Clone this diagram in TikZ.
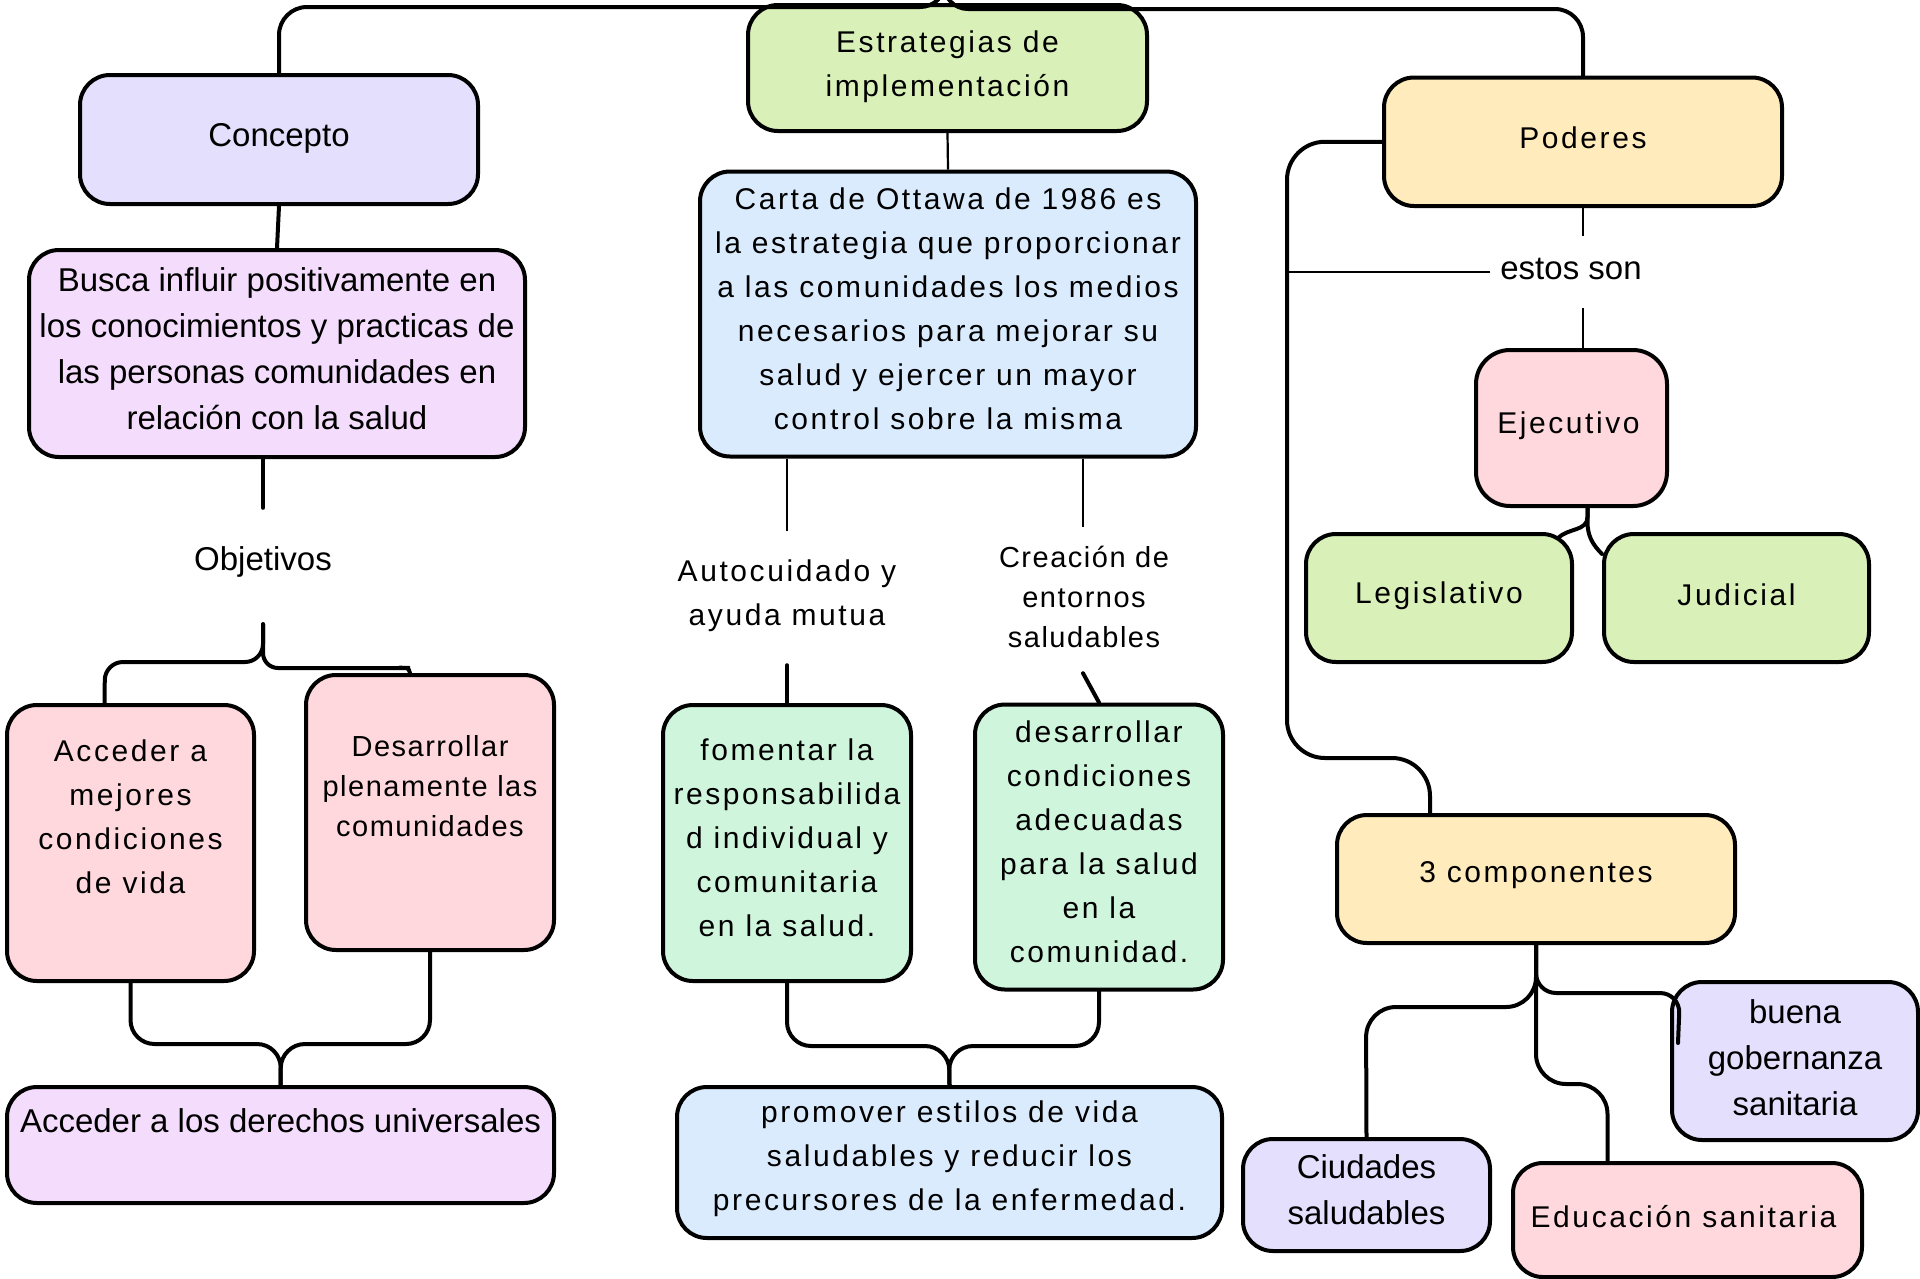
\documentclass[tikz,border=0pt]{standalone}
\usepackage{fontspec}
\setmainfont{Liberation Sans}
\newfontfamily\spacedfont[LetterSpace=8.6]{Liberation Sans}
\newfontfamily\smallspfont[LetterSpace=5.2]{Liberation Sans}
\definecolor{cLav}{HTML}{E4DFFC}
\definecolor{cGrn}{HTML}{D9F1B9}
\definecolor{cYel}{HTML}{FFEBBC}
\definecolor{cVio}{HTML}{F3DCFC}
\definecolor{cBlu}{HTML}{DAEBFE}
\definecolor{cPnk}{HTML}{FFD8DE}
\definecolor{cMnt}{HTML}{D0F5DD}
\begin{document}
\begin{tikzpicture}[x=1pt,y=-1pt,
  box/.style={draw=black, line width=4pt, rounded corners=30pt, inner sep=0pt},
  txt/.style={inner sep=0pt, align=center},
  plainf/.style={font=\fontsize{33}{46}\selectfont},
  spf/.style={font=\spacedfont\fontsize{30}{44}\selectfont},
  smf/.style={font=\smallspfont\fontsize{29}{40}\selectfont},
  conn/.style={draw=black, line width=4pt, line cap=round},
  thinconn/.style={draw=black, line width=2.2pt},
  lbl/.style={inner sep=0pt, align=center}
]
\clip (0,0) rectangle (1920,1278);
\fill[white] (0,0) rectangle (1920,1278);

% ---------- boxes ----------
\node[box, fill=cLav, minimum width=398pt, minimum height=129pt] (concepto) at (279,139.5) {};
\node[box, fill=cGrn, minimum width=399pt, minimum height=126pt] (estr) at (947.5,68) {};
\node[box, fill=cYel, minimum width=398pt, minimum height=128.5pt] (poderes) at (1583,141.75) {};
\node[box, fill=cVio, minimum width=496pt, minimum height=207pt] (busca) at (277,353.5) {};
\node[box, fill=cBlu, minimum width=496pt, minimum height=285pt] (carta) at (948,314) {};
\node[box, fill=cPnk, minimum width=191pt, minimum height=156pt, rounded corners=34pt] (ejec) at (1571.5,428) {};
\node[box, fill=cGrn, minimum width=266pt, minimum height=128pt] (legis) at (1439,598) {};
\node[box, fill=cGrn, minimum width=265pt, minimum height=128pt] (judic) at (1736.5,598) {};
\node[box, fill=cPnk, minimum width=247pt, minimum height=276pt] (acc1) at (130.5,843) {};
\node[box, fill=cPnk, minimum width=248pt, minimum height=275pt] (desa) at (430,812.5) {};
\node[box, fill=cMnt, minimum width=248pt, minimum height=276pt] (fomen) at (787,843) {};
\node[box, fill=cMnt, minimum width=248pt, minimum height=285pt] (desc) at (1099,847) {};
\node[box, fill=cYel, minimum width=398pt, minimum height=128pt] (comp) at (1536,879) {};
\node[box, fill=cLav, minimum width=246pt, minimum height=158pt] (buena) at (1795,1061) {};
\node[box, fill=cLav, minimum width=247pt, minimum height=112pt] (ciud) at (1366.5,1195) {};
\node[box, fill=cPnk, minimum width=349pt, minimum height=114pt] (educ) at (1687.5,1220) {};
\node[box, fill=cVio, minimum width=547pt, minimum height=116pt] (accd) at (280.5,1145) {};
\node[box, fill=cBlu, minimum width=545pt, minimum height=151pt] (prom) at (949.5,1162.5) {};

% ---------- box texts ----------
\node[txt, plainf] (conceptoT) at ([yshift=1pt]concepto.center) {Concepto};
\node[txt, spf] (estrT) at ([yshift=1.5pt]estr.center) {Estrategias de\\implementación};
\node[txt, spf] (poderesT) at ([yshift=4pt]poderes.center) {Poderes};
\node[txt, plainf] (buscaT) at ([yshift=5pt]busca.center)
  {Busca influir positivamente en\\los conocimientos y practicas de\\las personas comunidades en\\relación con la salud};
\node[txt, spf] (cartaT) at ([yshift=5pt]carta.center)
  {Carta de Ottawa de 1986 es\\la estrategia que proporcionar\\a las comunidades los medios\\necesarios para mejorar su\\salud y ejercer un mayor\\control sobre la misma};
\node[txt, spf] (ejecT) at ([xshift=-3pt,yshift=2pt]ejec.center) {Ejecutivo};
\node[txt, spf] (legisT) at ([yshift=2pt]legis.center) {Legislativo};
\node[txt, spf] (judicT) at ([yshift=3pt]judic.center) {Judicial};
\node[txt, spf, anchor=north] (acc1T) at ([yshift=-37pt]acc1.north) {Acceder a\\mejores\\condiciones\\de vida};
\node[txt, smf, anchor=north] (desaT) at ([yshift=-62pt]desa.north) {Desarrollar\\plenamente las\\comunidades};
\node[txt, spf] (fomenT) at ([yshift=5pt]fomen.center)
  {fomentar la\\responsabilida\\d individual y\\comunitaria\\en la salud.};
\node[txt, spf] (descT) at ([yshift=5pt]desc.center)
  {desarrollar\\condiciones\\adecuadas\\para la salud\\en la\\comunidad.};
\node[txt, spf] (compT) at ([yshift=4pt]comp.center) {3 componentes};
\node[txt, plainf] (buenaT) at ([yshift=3pt]buena.center) {buena\\gobernanza\\sanitaria};
\node[txt, plainf] (ciudT) at ([yshift=5pt]ciud.center) {Ciudades\\saludables};
\node[txt, spf] (educT) at ([xshift=-4pt,yshift=3pt]educ.center) {Educación sanitaria};
\node[txt, plainf, anchor=north] (accdT) at ([yshift=-23pt]accd.north) {Acceder a los derechos universales};
\node[txt, spf] (promT) at ([yshift=4pt]prom.center)
  {promover estilos de vida\\saludables y reducir los\\precursores de la enfermedad.};

% ---------- labels ----------
\node[lbl, minimum width=150pt, minimum height=116pt] (objetivos) at (263,566) {};
\node[txt, plainf] (objetivosT) at ([yshift=4pt]objetivos.center) {Objetivos};
\node[lbl, minimum width=240pt, minimum height=134pt] (autoc) at (787,598) {};
\node[txt, spf] (autocT) at ([yshift=2pt]autoc.center) {Autocuidado y\\ayuda mutua};
\node[lbl, minimum width=200pt, minimum height=146pt] (creac) at (1083,600) {};
\node[txt, smf] (creacT) at ([xshift=1pt,yshift=3pt]creac.center) {Creación de\\entornos\\saludables};
\node[lbl, minimum width=161pt, minimum height=72pt] (estos) at (1571,272) {};
\node[txt, plainf] (estosT) at ([yshift=3pt]estos.center) {estos son};

% ---------- helper coordinates ----------
\coordinate (topj) at (944,-15);
\coordinate (vline) at (1287,0);
\coordinate (pvb) at (1287,758);
\coordinate (jl) at (281,1044);
\coordinate (jm) at (949,1046);
\coordinate (ej) at ([xshift=16pt]ejec.south);

% ---------- connectors ----------
\draw[conn] (topj) to[out=-90,in=0] (920,7) [rounded corners=28pt] -| (concepto.north);
\draw[conn] (topj) to[out=-90,in=180] (968,9) [rounded corners=28pt] -| (poderes.north);

\draw[conn] (concepto.south) -- (busca.north);
\draw[conn] (busca.south -| objetivos.north) -- (objetivos.north);
\draw[conn, rounded corners=18pt] (objetivos.south) |- (105,662) -- ([xshift=-26pt]acc1.north);
\draw[conn, rounded corners=15pt] (objetivos.south) |- (395,668) to[out=0,in=90] ([xshift=-20pt]desa.north);
\draw[conn, rounded corners=24pt] (acc1.south) |- (jl) -- (accd.north);
\draw[conn, rounded corners=24pt] (desa.south) |- (jl) -- (accd.north);

\draw[thinconn] (estr.south) -- (carta.north);
\draw[thinconn] (carta.south -| autoc.north) -- (autoc.north);
\draw[thinconn] (carta.south -| creac.north) -- (creac.north);
\draw[conn] (autoc.south) -- (fomen.north);
\draw[conn] (creac.south) -- (desc.north);
\draw[conn, rounded corners=24pt] (fomen.south) |- (jm) -- (prom.north);
\draw[conn, rounded corners=24pt] (desc.south) |- (jm) -- (prom.north);

\draw[thinconn] (poderes.south) -- (poderes.south |- estos.north);
\draw[thinconn] (poderes.south |- estos.south) -- (poderes.south |- ejec.north);
\draw[thinconn] (estos.west) -- (estos.west -| vline);
\draw[conn, rounded corners=38pt] (poderes.west) -| (pvb) -| ([xshift=-106pt]comp.north);

\draw[conn] (ej) -- ++(0,9) to[out=-90,in=45] ([xshift=-16pt,yshift=-6pt]legis.north east);
\draw[conn] (ej) -- ++(0,14) to[out=-90,in=135] ([yshift=-22pt]judic.north west);

\draw[conn, rounded corners=30pt] (comp.south) |- (1366,1007) -- (ciud.north);
\draw[conn, rounded corners=30pt] (comp.south) |- (1607.5,1084) -- ([xshift=-80pt]educ.north);
\draw[conn, rounded corners=20pt] (comp.south) |- (1680,993) -- ([xshift=8pt,yshift=18pt]buena.west);
\end{tikzpicture}
\end{document}
